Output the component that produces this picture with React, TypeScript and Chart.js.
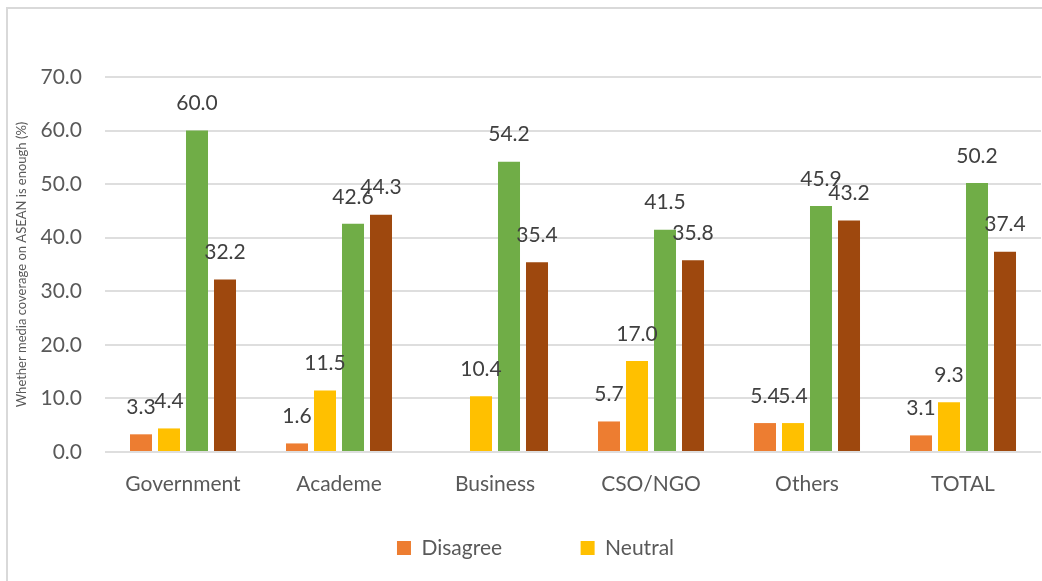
import React, { useEffect, useRef } from 'react';
import { Chart, registerables } from 'chart.js';

Chart.register(...registerables);

const categories = ['Government', 'Academe', 'Business', 'CSO/NGO', 'Others', 'TOTAL'];
const seriesNames = ['Disagree', 'Neutral', 'Agree', 'Strongly agree'];
const disagree: (number | null)[] = [3.3, 1.6, null, 5.7, 5.4, 3.1];
const neutral: (number | null)[] = [4.4, 11.5, 10.4, 17.0, 5.4, 9.3];
const agree: (number | null)[] = [60.0, 42.6, 54.2, 41.5, 45.9, 50.2];
const stronglyAgree: (number | null)[] = [32.2, 44.3, 35.4, 35.8, 43.2, 37.4];
const yMin = 0;
const yMax = 70;
const yStep = 10;
const yTitle = 'Whether media coverage on ASEAN is enough (%)';
const legendShown = ['Disagree', 'Neutral'];

const colors = ['#ED7D31', '#FFC000', '#70AD47', '#9E480E'];
const FONT = 'Lato, "Open Sans", sans-serif';

const borderPlugin = {
  id: 'frameBorder',
  beforeDraw(chart: any) {
    const { ctx, width, height } = chart;
    ctx.save();
    ctx.fillStyle = '#ffffff';
    ctx.fillRect(0, 0, width, height);
    ctx.fillStyle = '#d9d9d9';
    ctx.fillRect(6, 7, 2, height - 7);
    ctx.fillRect(6, 7, width - 6, 2);
    ctx.restore();
  },
};

const labelPlugin = {
  id: 'barValueLabels',
  afterDatasetsDraw(chart: any) {
    const { ctx } = chart;
    ctx.save();
    ctx.font = `21px ${FONT}`;
    ctx.fillStyle = '#404040';
    ctx.textAlign = 'center';
    ctx.textBaseline = 'middle';
    chart.data.datasets.forEach((ds: any, di: number) => {
      const meta = chart.getDatasetMeta(di);
      meta.data.forEach((bar: any, i: number) => {
        const v = ds.data[i];
        if (v === null || v === undefined) return;
        ctx.fillText(Number(v).toFixed(1), bar.x, bar.y - 27);
      });
    });
    ctx.restore();
  },
};

export default function App() {
  const ref = useRef<HTMLCanvasElement | null>(null);

  useEffect(() => {
    if (!ref.current) return;
    const series = [disagree, neutral, agree, stronglyAgree];
    const chart = new Chart(ref.current, {
      type: 'bar',
      data: {
        labels: categories,
        datasets: series.map((d, i) => ({
          label: seriesNames[i],
          data: d,
          backgroundColor: colors[i],
          borderWidth: 0,
          categoryPercentage: 0.718,
          barPercentage: 0.786,
        })),
      },
      options: {
        responsive: false,
        animation: false,
        devicePixelRatio: 1,
        layout: { padding: { left: 30, right: 1, top: 77, bottom: 12.5 } },
        plugins: {
          tooltip: { enabled: false },
          legend: {
            position: 'bottom',
            title: {
              display: true,
              text: '',
              font: { family: FONT, size: 10 },
              padding: { top: -50, bottom: 0 },
            },
            labels: {
              filter: (item: any) => legendShown.includes(item.text),
              boxWidth: 14,
              boxHeight: 14,
              padding: 78.5,
              color: '#595959',
              font: { family: FONT, size: 21 },
            },
          },
        },
        scales: {
          x: {
            grid: { display: false },
            border: { display: false },
            ticks: { color: '#595959', font: { family: FONT, size: 21 }, padding: 12 },
            afterFit: (scale: any) => {
              scale.height = 45;
            },
          },
          y: {
            min: yMin,
            max: yMax,
            grid: { color: '#dedede', lineWidth: 2, drawTicks: false },
            border: { display: false },
            ticks: {
              stepSize: yStep,
              padding: 23,
              color: '#595959',
              font: { family: FONT, size: 21 },
              callback: (v: any) => Number(v).toFixed(1),
            },
            title: {
              display: true,
              text: yTitle,
              color: '#595959',
              font: { family: FONT, size: 13 },
              padding: { top: -15.8, bottom: 0 },
            },
            afterFit: (scale: any) => {
              scale.width = 75;
            },
          },
        },
      },
      plugins: [borderPlugin, labelPlugin],
    } as any);
    return () => chart.destroy();
  }, []);

  return (
    <div style={{ position: 'absolute', left: 0, top: 0, width: 1042, height: 581 }}>
      <canvas ref={ref} width={1042} height={581} style={{ display: 'block' }} />
    </div>
  );
}
